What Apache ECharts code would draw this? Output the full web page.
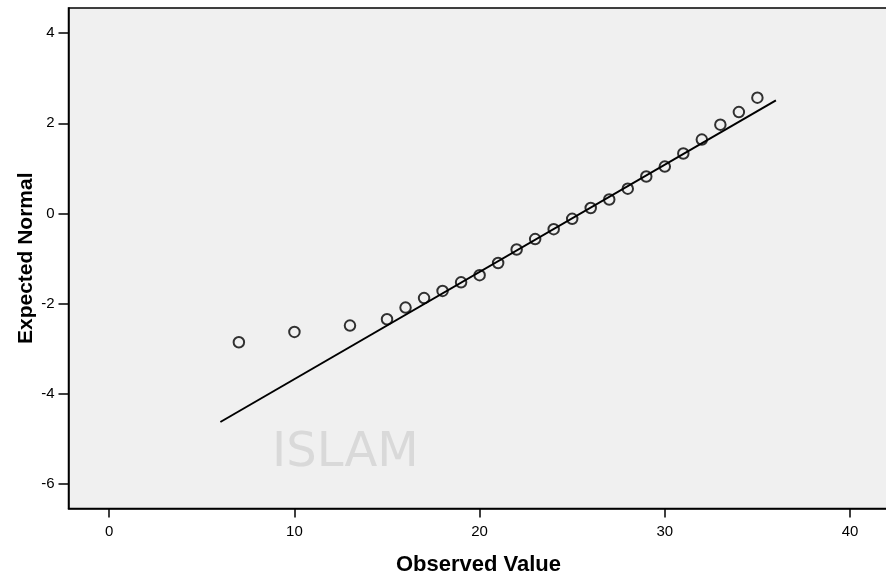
<!DOCTYPE html>
<html>
<head>
<meta charset="utf-8">
<script src="https://cdn.jsdelivr.net/npm/echarts@6/dist/echarts.min.js"></script>
<style>
html,body{margin:0;padding:0;background:#fff;}
#chart{width:886px;height:578px;}
</style>
</head>
<body>
<div id="chart"></div>
<script>
// Observed values (x) and expected normal values (y)
var observed = [7, 10, 13, 15, 16, 17, 18, 19, 20, 21, 22, 23, 24, 25, 26, 27, 28, 29, 30, 31, 32, 33, 34, 35];
var expectedNormal = [-2.86, -2.63, -2.49, -2.35, -2.09, -1.88, -1.72, -1.53, -1.37, -1.10, -0.80, -0.57, -0.35, -0.12, 0.12, 0.31, 0.55, 0.82, 1.04, 1.33, 1.64, 1.97, 2.25, 2.57];
// Reference line endpoints
var lineX = [6, 36];
var lineY = [-4.63, 2.51];
var xTicks = [0, 10, 20, 30, 40];
var yTicks = [-6, -4, -2, 0, 2, 4];

var points = observed.map(function (v, i) { return [v, expectedNormal[i]]; });
var linePts = lineX.map(function (v, i) { return [v, lineY[i]]; });

var chart = echarts.init(document.getElementById('chart'), null, {renderer: 'canvas'});
var font = 'Arial, "Liberation Sans", sans-serif';
chart.setOption({
  animation: false,
  backgroundColor: '#ffffff',
  grid: {
    left: 68.5, top: 8, width: 820, height: 500.5, outerBoundsMode: 'none', containLabel: false,
    show: true, backgroundColor: '#f0f0f0', borderColor: '#000', borderWidth: 1.5, z: 0
  },
  graphic: [{
    type: 'text', left: 272, top: 430, z: 1, silent: true,
    style: {text: 'ISLAM', font: '48px "DejaVu Sans", sans-serif', fill: '#d9d9d9', letterSpacing: 10}
  }],
  xAxis: {
    type: 'value', min: -2.2, max: 42.08,
    axisLine: {show: true, onZero: false, lineStyle: {color: '#000', width: 1.5}},
    axisTick: {show: true, length: 9, lineStyle: {color: '#000', width: 1.5},
      customValues: xTicks},
    axisLabel: {color: '#000', fontSize: 15, fontFamily: font, margin: 16,
      customValues: xTicks},
    splitLine: {show: false},
    name: 'Observed Value', nameLocation: 'middle', nameGap: 45,
    nameTextStyle: {color: '#000', fontSize: 22, fontWeight: 'bold', fontFamily: font}
  },
  yAxis: {
    type: 'value', min: -6.55, max: 4.56,
    axisLine: {show: true, onZero: false, lineStyle: {color: '#000', width: 1.5}},
    axisTick: {show: true, length: 10, lineStyle: {color: '#000', width: 1.5},
      customValues: yTicks},
    axisLabel: {color: '#000', fontSize: 15, fontFamily: font, margin: 14,
      customValues: yTicks},
    splitLine: {show: false},
    name: 'Expected Normal', nameLocation: 'middle', nameGap: 32, nameMoveOverlap: false,
    nameTextStyle: {color: '#000', fontSize: 21, fontWeight: 'bold', fontFamily: font}
  },
  series: [{
    type: 'line', data: linePts, symbol: 'none', z: 3,
    lineStyle: {color: '#000', width: 2}
  }, {
    type: 'scatter', data: points, symbol: 'circle', symbolSize: 10.5, z: 4,
    itemStyle: {color: 'rgba(0,0,0,0)', borderColor: '#000', borderWidth: 2}
  }]
});
</script>
</body>
</html>
